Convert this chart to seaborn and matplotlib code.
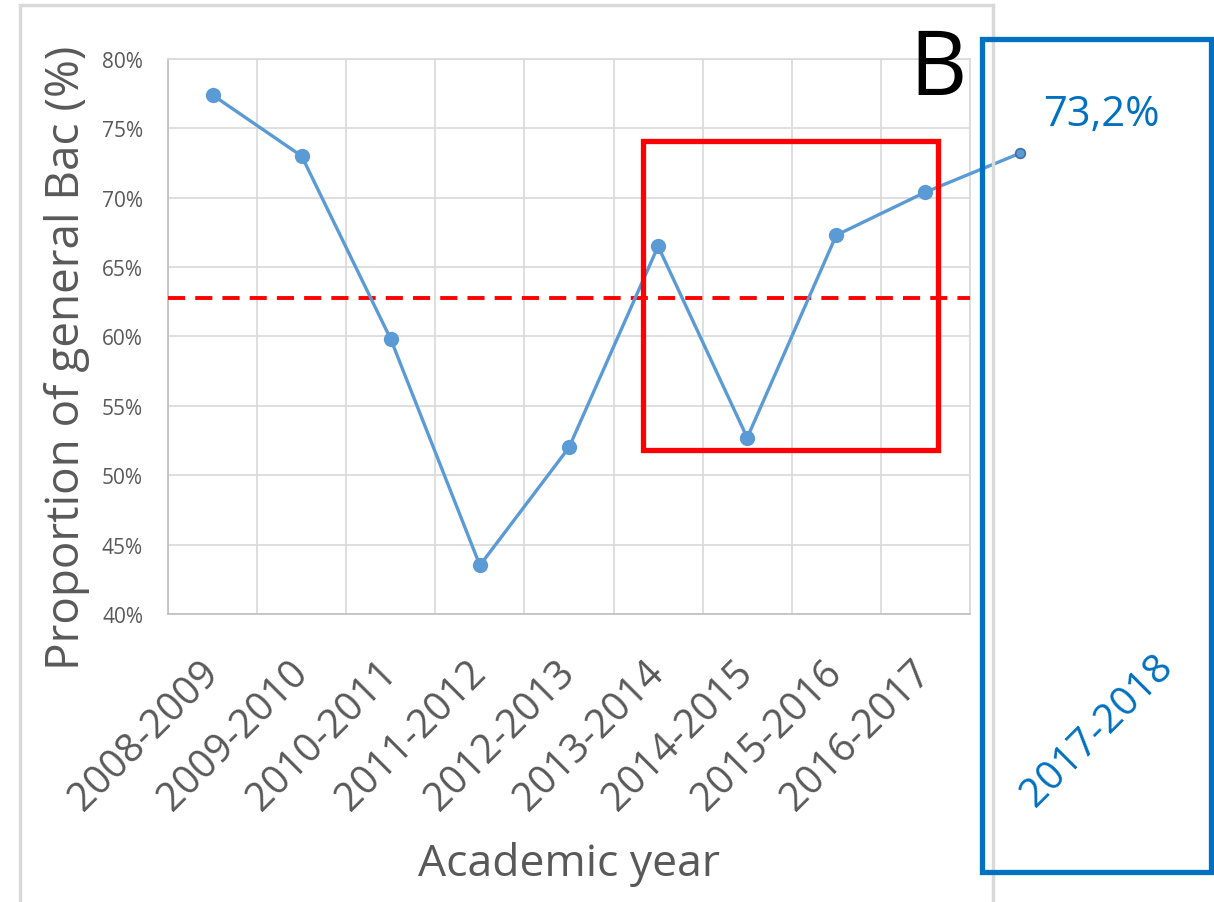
import matplotlib
matplotlib.use('Agg')
import matplotlib.pyplot as plt
import matplotlib.patches as mpatches
from matplotlib.ticker import FixedLocator, PercentFormatter
import seaborn as sns
import pandas as pd

years = ['2008-2009', '2009-2010', '2010-2011', '2011-2012', '2012-2013',
         '2013-2014', '2014-2015', '2015-2016', '2016-2017']
general_bac = [77.4, 73.0, 59.8, 43.5, 52.0, 66.5, 52.7, 67.3, 70.4]
next_year = '2017-2018'
next_value = 73.2
mean_line = 62.8
highlight_years = (4.83, 8.14)
highlight_range = (51.8, 74.1)

sns.set_theme(style='white')
plt.rcParams['font.family'] = ['Open Sans', 'DejaVu Sans']

grey_txt = '#595959'
grid_c = '#d9d9d9'
line_c = '#5b9bd5'
blue = '#0070c0'

df = pd.DataFrame({'year': years, 'value': general_bac})

fig = plt.figure(figsize=(12.14, 9.03), dpi=100)
ax = fig.add_axes([0.1384, 0.319, 0.6606, 0.6146])

sns.lineplot(data=df, x='year', y='value', marker='o', color=line_c,
             linewidth=2.4, markersize=11, markeredgewidth=0, ax=ax, zorder=4)

# extension to the next year (outside the plot)
ax.plot([len(years) - 1, len(years) + 0.06], [general_bac[-1], next_value],
        color=line_c, lw=2.4, clip_on=False, zorder=4)
ax.plot([len(years) + 0.06], [next_value], marker='o', ms=7, mfc=line_c,
        mec='#41719c', mew=1.2, clip_on=False, zorder=5)

ax.axhline(mean_line, color='#ff0000', lw=2.8, ls=(0, (4.4, 2.6)), zorder=3)

rect = mpatches.Rectangle((highlight_years[0], highlight_range[0]),
                          highlight_years[1] - highlight_years[0],
                          highlight_range[1] - highlight_range[0],
                          fill=False, ec='#ff0000', lw=3.8, zorder=6)
ax.add_patch(rect)

ax.set_xlim(-0.5, len(years) - 0.5)
ax.set_ylim(40, 80)
ax.set_yticks(range(40, 81, 5))
ax.yaxis.set_major_formatter(PercentFormatter(decimals=0))
ax.xaxis.set_minor_locator(FixedLocator([i + 0.5 for i in range(-1, len(years))]))
ax.grid(True, which='minor', axis='x', color=grid_c, lw=1.2)
ax.grid(True, which='major', axis='y', color=grid_c, lw=1.2)
ax.set_axisbelow(True)
for s in ax.spines.values():
    s.set_color(grid_c)
    s.set_linewidth(1.2)
ax.spines['left'].set_color('#bfbfbf')
ax.spines['bottom'].set_color('#bfbfbf')

ax.tick_params(axis='y', length=0, pad=18, labelsize=15, labelcolor=grey_txt)
ax.tick_params(axis='x', which='both', length=0, pad=38, labelsize=28.5, labelcolor=grey_txt)
plt.setp(ax.get_xticklabels(), rotation=45, ha='right', va='center',
         rotation_mode='anchor')

ax.set_xlabel('Academic year', fontsize=32, color=grey_txt)
ax.xaxis.set_label_coords(0.5, -0.41)
ax.set_ylabel('Proportion of general Bac (%)', fontsize=33, color=grey_txt)
ax.yaxis.set_label_coords(-0.097, 0.463)

# outer chart frame
fig.patches.append(mpatches.Rectangle((20 / 1214, -0.1), 973 / 1214, 1.1 - 6 / 903,
                                      transform=fig.transFigure, fill=False,
                                      ec=grid_c, lw=2.5))
# blue box for next year
fig.patches.append(mpatches.Rectangle((982 / 1214, 30 / 903), 229 / 1214, 833 / 903,
                                      transform=fig.transFigure, fill=False,
                                      ec=blue, lw=3.8))

fig.text(938 / 1214, 1 - 72 / 903, 'B', fontsize=64, color='black',
         ha='center', va='center')
fig.text(1101 / 1214, 1 - 115 / 903, f'{next_value:.1f}%'.replace('.', ','),
         fontsize=30, color=blue, ha='center', va='center')
fig.text(1097 / 1214, 1 - 731 / 903, next_year, fontsize=29, color=blue,
         rotation=45, ha='center', va='center')

fig.savefig('out.png', dpi=100, facecolor='white')
